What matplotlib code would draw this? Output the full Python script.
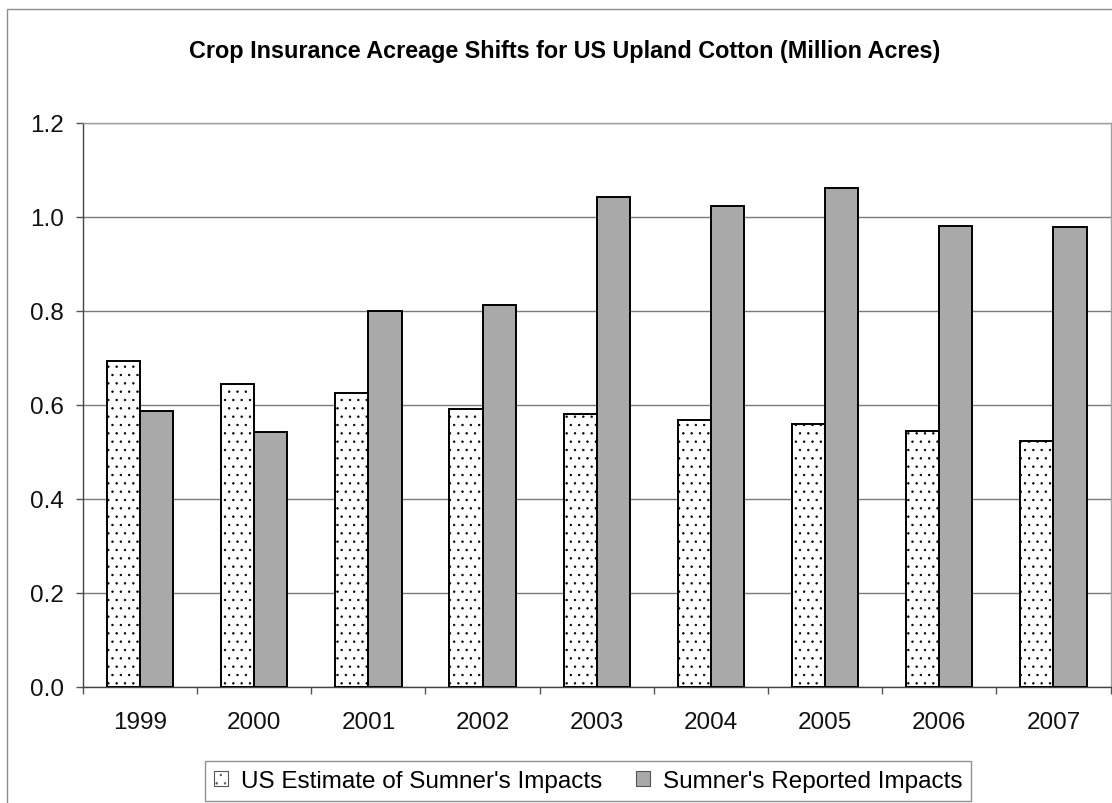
import matplotlib.pyplot as plt
import numpy as np
from matplotlib import font_manager
from matplotlib.patches import Patch, Rectangle

# ---------------------------------------------------------------------
# Data
# ---------------------------------------------------------------------

years = ["1999", "2000", "2001", "2002", "2003", "2004", "2005", "2006", "2007"]
us_estimate = [0.693, 0.645, 0.624, 0.591, 0.581, 0.567, 0.559, 0.545, 0.522]
sumner_reported = [0.587, 0.543, 0.799, 0.811, 1.042, 1.022, 1.060, 0.980, 0.977]
y_ticks = [0.0, 0.2, 0.4, 0.6, 0.8, 1.0, 1.2]

label_us = "US Estimate of Sumner's Impacts"
label_sumner = "Sumner's Reported Impacts"
title = "Crop Insurance Acreage Shifts for US Upland Cotton (Million Acres)"

# ---------------------------------------------------------------------
# Visualize
# ---------------------------------------------------------------------

plt.rcParams["font.family"] = ["Liberation Sans", "DejaVu Sans"]
plt.rcParams["hatch.linewidth"] = 0.5

# narrow bold title if the narrow face is available
try:
    font_manager.findfont(font_manager.FontProperties(family="Liberation Sans Narrow",
                                                      weight="bold"),
                          fallback_to_default=False)
    title_family, title_size = ["Liberation Sans Narrow", "Liberation Sans"], 20.5
except ValueError:
    title_family, title_size = ["Liberation Sans", "DejaVu Sans"], 16.8

W, H = 1112, 804
fig = plt.figure(figsize=(W / 100, H / 100), dpi=100)

# outer chart border
fig.patches.append(Rectangle((7 / W, -0.01), 1.0, 1 - 10 / H + 0.01,
                             transform=fig.transFigure, fill=False,
                             edgecolor="#8c8c8c", linewidth=1))

left, right, top, bottom = 83, 1110.5, 123.5, 688
ax = fig.add_axes([left / W, 1 - bottom / H, (right - left) / W, (bottom - top) / H])

x = np.arange(len(years))
w = 0.29
ax.bar(x - w / 2, us_estimate, w, facecolor="white", edgecolor="black",
       hatch="..", linewidth=1.4, zorder=3)
ax.bar(x + w / 2, sumner_reported, w, facecolor="#a9a9a9", edgecolor="black",
       linewidth=1.4, zorder=3)

ax.set_xlim(-0.5, len(years) - 0.5)
ax.set_ylim(0, 1.2)
ax.set_yticks(y_ticks)
ax.set_yticklabels([f"{v:.1f}" for v in y_ticks])
ax.set_xticks(x)
ax.set_xticklabels(years)
ax.set_xticks(np.arange(-0.5, len(years)), minor=True)

ax.tick_params(axis="y", direction="out", length=5, width=1, color="#555555",
               pad=9, labelsize=17.5, labelcolor="#111111")
ax.tick_params(axis="x", which="major", length=0, pad=17, labelsize=17.5,
               labelcolor="#111111")
ax.tick_params(axis="x", which="minor", direction="out", length=5, width=1,
               color="#555555")

ax.yaxis.grid(True, color="#7a7a7a", linewidth=1)
ax.set_axisbelow(True)

for side in ["left", "bottom"]:
    ax.spines[side].set_color("#444444")
    ax.spines[side].set_linewidth(1)
for side in ["top", "right"]:
    ax.spines[side].set_color("#a0a0a0")
    ax.spines[side].set_linewidth(1)

fig.text(565 / W, 1 - 58 / H, title, ha="center", va="baseline",
         fontsize=title_size, fontweight="bold", family=title_family)

handles = [
    Patch(facecolor="white", edgecolor="#555555", hatch="..", linewidth=0.8),
    Patch(facecolor="#a9a9a9", edgecolor="#555555", linewidth=0.8),
]
leg = fig.legend(handles, [label_us, label_sumner], ncol=2,
                 loc="center", bbox_to_anchor=(588 / W, 1 - 782 / H),
                 fontsize=17.5, frameon=True, fancybox=False,
                 handlelength=0.6, handleheight=0.6, handletextpad=0.5,
                 columnspacing=1.4, borderpad=0.35, borderaxespad=0)
leg.get_frame().set_edgecolor("#777777")
leg.get_frame().set_linewidth(1)

plt.savefig("out.png", dpi=100)
